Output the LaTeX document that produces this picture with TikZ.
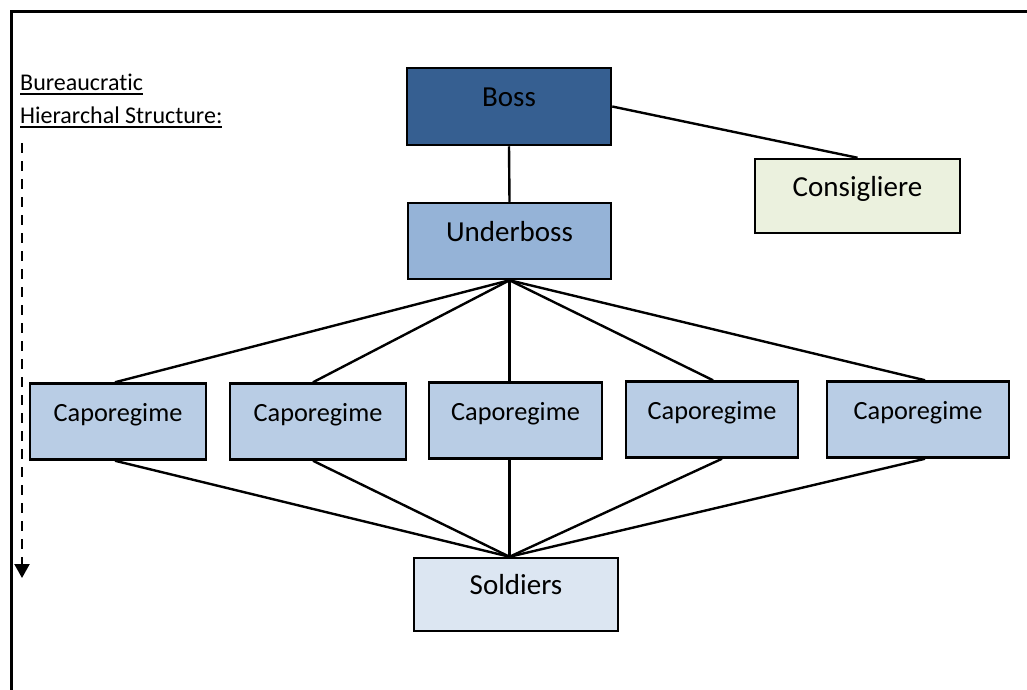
\documentclass[tikz,border=0pt]{standalone}
\usepackage{fontspec}
\setmainfont{Carlito}[Ligatures=NoCommon]
\usetikzlibrary{arrows.meta}
\definecolor{bossfill}{HTML}{365F91}
\definecolor{ubfill}{HTML}{95B3D7}
\definecolor{capfill}{HTML}{B9CDE5}
\definecolor{solfill}{HTML}{DCE6F2}
\definecolor{consfill}{HTML}{EBF1DE}
\newcommand\myul[1]{\setbox0\hbox{#1}\rlap{\rule[-5.4pt]{\wd0}{2.1pt}}\box0}
\tikzset{
  orgbox/.style={draw=black, line width=2.5pt, rectangle, inner sep=0pt,
    text height=10pt, text depth=10pt,
    font=\fontsize{29}{34}\selectfont},
  capbox/.style={orgbox, fill=capfill, minimum width=176pt, minimum height=76pt,
    font=\fontsize{26.3}{31}\selectfont},
  conn/.style={line width=2.4pt, draw=black},
  lbl/.style={inner sep=0pt, anchor=base west, font=\fontsize{24}{28}\selectfont}
}
\begin{document}
\begin{tikzpicture}[x=1pt,y=-1pt]
\useasboundingbox (0,0) rectangle (1027,689);
% frame
\coordinate (frBL) at (11,700);
\coordinate (frTL) at (11,11);
\coordinate (frTR) at (1040,11);
\draw[line width=3pt] (frBL) -- (frTL) -- (frTR);
% label
\node[lbl] (lab1) at (20,90) {\myul{Bureaucratic}};
\node[lbl] (lab2) at (20,123) {\myul{Hierarchal Structure:}};
\coordinate (arrTop) at (22,143);
\coordinate (arrEnd) at (22,578);
\draw[line width=2.2pt, dash pattern=on 10pt off 8pt, -{Triangle[width=15pt,length=14pt]}] (arrTop) -- (arrEnd);
% boxes
\node[orgbox, fill=bossfill, minimum width=204pt, minimum height=77pt] (boss) at (509,106.5) {Boss};
\node[orgbox, fill=ubfill, minimum width=203pt, minimum height=76pt] (ub) at (509.5,241) {Underboss};
\node[orgbox, fill=consfill, minimum width=205pt, minimum height=74pt] (cons) at (857.5,196) {Consigliere};
\node[capbox] (cap1) at (118,421.5) {Caporegime};
\node[capbox] (cap2) at (318,421.5) {Caporegime};
\node[capbox, minimum width=173pt] (cap3) at (515.5,420.5) {Caporegime};
\node[capbox, minimum width=172pt] (cap4) at (712,419.5) {Caporegime};
\node[capbox, minimum width=182pt] (cap5) at (918,419.5) {Caporegime};
\node[orgbox, fill=solfill, minimum width=204pt, minimum height=73pt] (sol) at (516,594.5) {Soldiers};
% connectors
\draw[conn] (boss.south) -- (ub.north);
\draw[conn] (boss.east) -- (cons.north);
\draw[conn] (ub.south) -- ([xshift=-3pt]cap1.north);
\draw[conn] (ub.south) -- ([xshift=-5pt]cap2.north);
\draw[conn] (ub.south) -- (ub.south |- cap3.north);
\draw[conn] (ub.south) -- ([xshift=1pt]cap4.north);
\draw[conn] (ub.south) -- ([xshift=7pt]cap5.north);
\draw[conn] ([xshift=-3pt]cap1.south) -- (ub.south |- sol.north);
\draw[conn] ([xshift=-5pt]cap2.south) -- (ub.south |- sol.north);
\draw[conn] (ub.south |- cap3.south) -- (ub.south |- sol.north);
\draw[conn] ([xshift=10pt]cap4.south) -- (ub.south |- sol.north);
\draw[conn] ([xshift=7pt]cap5.south) -- (ub.south |- sol.north);
\end{tikzpicture}
\end{document}
